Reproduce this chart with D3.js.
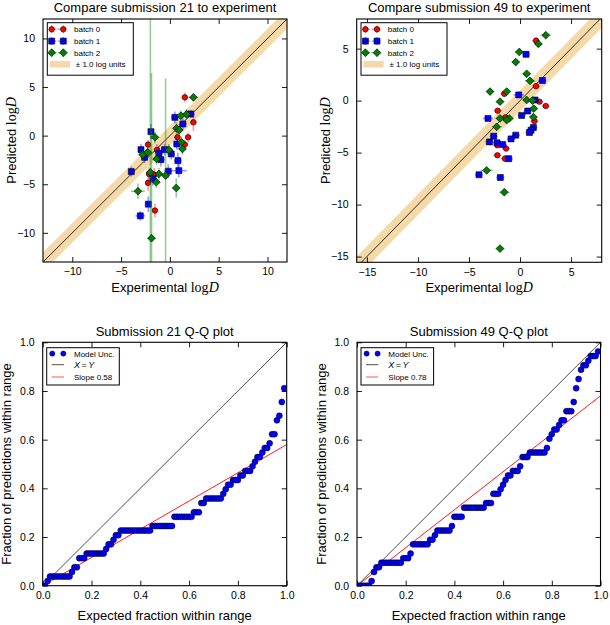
<!DOCTYPE html>
<html>
<head>
<meta charset="utf-8">
<script src="https://cdn.jsdelivr.net/npm/d3@7"></script>
<style>
  body { margin: 0; background: #fff; }
  svg { display: block; }
  text { font-family: "Liberation Sans", Arial, sans-serif; fill: #000; }
</style>
</head>
<body>
<script>
// ---- data: [experimental, predicted, xerr, yerr] ----
var sub21Batch0 = [
    [1.53, 3.94, 0.3, 0.5], [2.41, 1.37, 0.3, 0.9], [1.87, -0.17, 0.3, 0.5],
    [0.78, -0.17, 0.3, 0.5], [1.53, -0.92, 0.3, 0.5], [-2.24, -0.92, 0.3, 0.5],
    [-1.33, -1.47, 0.3, 0.6], [-1.6, -4.0, 0.3, 0.7], [-2.14, -3.94, 0.3, 0.7],
    [-2.24, -4.86, 0.3, 0.8], [-1.53, -7.7, 0.3, 0.7]
];
var sub21Batch1 = [
    [2.14, 2.23, 0.4, 0.4], [0.51, 1.88, 0.4, 0.6], [1.33, 1.2, 0.4, 0.6],
    [-1.94, 0.41, 0.3, 0.8], [0.71, -0.86, 0.4, 0.6], [-2.96, -1.44, 0.3, 0.6],
    [-2.59, -2.23, 0.4, 0.6], [-1.12, -1.82, 0.4, 0.7], [-0.92, -2.47, 0.4, 0.7],
    [-0.54, -1.44, 0.4, 0.6], [0.14, -1.88, 0.4, 0.6], [0.82, -2.57, 0.4, 0.8],
    [0.92, -3.6, 0.8, 0.7], [-0.17, -3.66, 0.4, 0.7], [-1.73, -4.45, 0.4, 0.7],
    [-3.95, -3.7, 0.3, 0.5], [-2.21, -7.05, 0.3, 0.8], [-3.03, -8.25, 0.5, 0.5]
];
var sub21Batch2 = [
    [2.41, 3.94, 0.5, 0.4], [1.7, 2.2, 0.4, 0.5], [1.12, 2.05, 0.4, 0.5],
    [0.68, 0.75, 0.4, 0.6], [0.95, 0.58, 0.4, 0.6], [-1.53, -0.17, 0.4, 0.6],
    [1.19, -0.68, 0.4, 0.6], [1.29, -1.37, 0.4, 0.6], [-2.79, -1.95, 0.4, 0.6],
    [-2.28, -1.71, 0.4, 0.6], [-1.36, -2.4, 0.4, 0.6], [-0.1, -1.47, 0.4, 0.6],
    [-0.44, -4.11, 0.4, 10.0], [-1.12, -3.94, 0.4, 0.6], [-2.0, -3.77, 0.4, 16.0],
    [-1.39, -4.79, 0.4, 0.6], [-3.27, -5.72, 0.7, 0.8], [0.65, -5.38, 0.4, 1.0],
    [-1.88, -10.55, 0.4, 17.0]
];

var sub49Batch0 = [
    [1.57, 5.77, 0.4, 0.2], [1.57, 1.39, 0.4, 0.2], [-1.54, 0.65, 0.4, 0.2],
    [1.9, -0.1, 0.4, 0.2], [2.52, -0.52, 0.4, 0.2], [-2.19, -0.97, 0.4, 0.2],
    [-1.44, -1.61, 0.4, 0.2], [1.41, -1.97, 0.4, 0.2], [-2.22, -4.29, 0.4, 0.2],
    [-1.37, -4.61, 0.4, 0.2], [-2.22, -5.26, 0.4, 0.2], [-1.47, -5.58, 0.4, 0.2]
];
var sub49Batch1 = [
    [0.59, 4.45, 0.4, 0.2], [2.19, 1.94, 0.4, 0.2], [-0.13, 0.55, 0.5, 0.2],
    [1.47, 0.06, 0.4, 0.2], [0.75, -1.0, 0.4, 0.2], [0.16, -1.42, 0.4, 0.2],
    [-3.14, -1.71, 0.5, 0.2], [1.31, -2.58, 0.4, 0.2], [1.08, -2.84, 0.4, 0.2],
    [0.92, -3.06, 0.4, 0.2], [-0.42, -3.32, 0.4, 0.2], [-0.88, -3.68, 0.4, 0.2],
    [-2.58, -3.42, 0.4, 0.2], [-3.0, -3.97, 0.4, 0.2], [-2.25, -4.06, 0.4, 0.2],
    [-1.7, -4.23, 0.4, 0.2], [-1.11, -5.58, 0.4, 0.2], [-4.02, -7.13, 0.4, 0.2],
    [-1.93, -7.39, 0.4, 0.2]
];
var sub49Batch2 = [
    [2.52, 6.29, 0.5, 0.2], [1.8, 5.45, 0.4, 0.2], [-0.07, 4.68, 0.4, 0.2],
    [-0.42, 3.71, 0.4, 0.2], [0.65, 2.58, 0.4, 0.2], [0.98, 1.9, 0.5, 0.2],
    [-2.94, 0.87, 0.4, 0.2], [-1.31, 0.87, 0.4, 0.2], [-1.96, -0.1, 0.4, 0.2],
    [0.65, 0.06, 0.4, 0.2], [1.21, 0.0, 0.4, 0.2], [1.34, -0.77, 0.4, 0.2],
    [1.31, -1.58, 0.4, 0.2], [-1.96, -1.71, 0.4, 0.2], [-1.05, -1.71, 0.4, 0.2],
    [-1.31, -1.87, 0.4, 0.2], [-2.29, -2.52, 0.5, 0.2], [-3.27, -6.71, 0.6, 0.2],
    [-1.54, -8.81, 0.5, 0.2], [-1.96, -14.23, 0.4, 0.2]
];

var batchNames = ["batch 0", "batch 1", "batch 2"];
var bandHalfWidth = 1.0;

// Q-Q data: expected fraction grid and number of molecules within range
var nMolecules = 53;
var qqExpected = [0, .01, .02, .03, .04, .05, .06, .07, .08, .09, .1, .11, .12, .13, .14, .15, .16, .17, .18, .19,
    .2, .21, .22, .23, .24, .25, .26, .27, .28, .29, .3, .31, .32, .33, .34, .35, .36, .37, .38, .39,
    .4, .41, .42, .43, .44, .45, .46, .47, .48, .49, .5, .51, .52, .53, .54, .55, .56, .57, .58, .59,
    .6, .61, .62, .63, .64, .65, .66, .67, .68, .69, .7, .71, .72, .73, .74, .75, .76, .77, .78, .79,
    .8, .81, .82, .83, .84, .85, .86, .87, .88, .89, .9, .91, .92, .93, .94, .95, .96, .97, .98, .99];
var qq21Counts = [0, 0, 1, 2, 2, 2, 2, 2, 2, 2, 2, 2, 3, 4, 4, 6, 6, 6, 7, 7,
    7, 7, 7, 7, 7, 7, 8, 9, 9, 10, 11, 11, 12, 12, 12, 12, 12, 12, 12, 12,
    12, 12, 12, 12, 12, 13, 13, 13, 13, 13, 13, 13, 13, 13, 15, 15, 15, 15, 15, 15,
    15, 15, 16, 16, 16, 18, 18, 19, 19, 19, 19, 19, 19, 19, 20, 21, 22, 22, 23, 23,
    23, 24, 24, 25, 25, 25, 26, 27, 28, 28, 29, 30, 30, 31, 33, 33, 36, 37, 40, 43];
var qq49Counts = [0, 0, 0, 0, 0, 0, 1, 3, 4, 4, 5, 5, 5, 5, 5, 5, 5, 5, 5, 6,
    6, 6, 7, 9, 9, 9, 9, 9, 9, 9, 10, 10, 11, 12, 12, 12, 12, 12, 12, 13,
    15, 15, 15, 15, 17, 17, 17, 17, 17, 17, 17, 17, 17, 18, 18, 18, 20, 20, 20, 21,
    22, 23, 24, 24, 25, 25, 25, 26, 28, 28, 28, 29, 29, 29, 29, 29, 29, 29, 30, 32,
    33, 34, 34, 35, 36, 36, 38, 38, 38, 40, 43, 45, 47, 48, 48, 49, 50, 50, 50, 51];
var qq21Slope = 0.58;
var qq49Slope = 0.78;

// ---- drawing ----
var svg = d3.select("body").append("svg").attr("width", 610).attr("height", 625);
var colors = ["#ff0000", "#0000ff", "#008000"];
var shapes = [
    d3.symbol().type(d3.symbolCircle).size(24),
    d3.symbol().type(d3.symbolSquare).size(36),
    d3.symbol().type(d3.symbolSquare).size(30)
];
var serif = "'Liberation Serif', 'DejaVu Serif', serif";

function marker(sel, b) {
    sel.append("path")
        .attr("d", shapes[b]())
        .attr("fill", colors[b])
        .attr("stroke", "#000")
        .attr("stroke-width", 0.6)
        .attr("transform", function(d) {
            return "translate(" + d[0] + "," + d[1] + ")" + (b === 2 ? " rotate(45)" : "");
        });
}

function makePanel(p) {
    var g = svg.append("g").attr("transform", "translate(" + p.left + "," + p.top + ")");
    var x = d3.scaleLinear().domain(p.xDom).range([0, p.w]);
    var y = d3.scaleLinear().domain(p.yDom).range([p.h, 0]);
    var clipId = "clip" + p.id;
    svg.append("clipPath").attr("id", clipId)
        .append("rect").attr("width", p.w).attr("height", p.h);
    var plot = g.append("g").attr("clip-path", "url(#" + clipId + ")");

    // axes, ticks inward on all four sides
    var fs = 10.5;
    var bottom = g.append("g").attr("transform", "translate(0," + p.h + ")")
        .call(d3.axisBottom(x).tickValues(p.ticksX).tickSizeInner(-5).tickSizeOuter(0)
            .tickPadding(6).tickFormat(p.fmt));
    var left = g.append("g")
        .call(d3.axisLeft(y).tickValues(p.ticksY).tickSizeInner(-5).tickSizeOuter(0)
            .tickPadding(8).tickFormat(p.fmt));
    g.append("g")
        .call(d3.axisTop(x).tickValues(p.ticksX).tickSizeInner(-5).tickSizeOuter(0).tickFormat(""));
    g.append("g").attr("transform", "translate(" + p.w + ",0)")
        .call(d3.axisRight(y).tickValues(p.ticksY).tickSizeInner(-5).tickSizeOuter(0).tickFormat(""));
    g.selectAll(".domain").remove();
    g.selectAll(".tick line").attr("stroke", "#000").attr("stroke-width", 0.9);
    [bottom, left].forEach(function(a) {
        a.attr("font-size", fs).attr("font-family", "'Liberation Sans', Arial, sans-serif");
    });

    // title
    g.append("text").attr("x", p.w / 2).attr("y", p.titleY)
        .attr("text-anchor", "middle").attr("font-size", 13).text(p.title);

    return { g: g, plot: plot, x: x, y: y };
}

function axisLabels(P, p, xParts, yParts) {
    var xl = P.g.append("text").attr("x", p.w / 2).attr("y", p.h + p.xLabelDy)
        .attr("text-anchor", "middle").attr("font-size", 13);
    xParts.forEach(function(t) {
        var s = xl.append("tspan").text(t[0]);
        if (t[1]) s.attr("font-family", serif).attr("font-size", 14);
        if (t[1] === "i") s.attr("font-style", "italic");
    });
    var yl = P.g.append("text")
        .attr("transform", "translate(" + (-p.yLabelDx) + "," + (p.h / 2) + ") rotate(-90)")
        .attr("text-anchor", "middle").attr("font-size", 13);
    yParts.forEach(function(t) {
        var s = yl.append("tspan").text(t[0]);
        if (t[1]) s.attr("font-family", serif).attr("font-size", 14);
        if (t[1] === "i") s.attr("font-style", "italic");
    });
}

function scatterPanel(p, batches) {
    var P = makePanel(p);
    var x = P.x, y = P.y;
    var x0 = p.xDom[0] - 5, x1 = p.xDom[1] + 5;

    // +/- band and identity line
    P.plot.append("path")
        .attr("d", d3.line()([
            [x(x0), y(x0 - bandHalfWidth)], [x(x1), y(x1 - bandHalfWidth)],
            [x(x1), y(x1 + bandHalfWidth)], [x(x0), y(x0 + bandHalfWidth)]
        ]) + "Z")
        .attr("fill", "#f5d9a8");
    P.plot.append("line")
        .attr("x1", x(x0)).attr("y1", y(x0)).attr("x2", x(x1)).attr("y2", y(x1))
        .attr("stroke", "#000").attr("stroke-width", 0.8);

    batches.forEach(function(data, b) {
        var eb = P.plot.append("g")
            .attr("stroke", colors[b]).attr("stroke-opacity", 0.4).attr("stroke-width", 1.6);
        eb.selectAll(".xe").data(data).enter().append("line")
            .attr("x1", function(d) { return x(d[0] - d[2]); })
            .attr("x2", function(d) { return x(d[0] + d[2]); })
            .attr("y1", function(d) { return y(d[1]); })
            .attr("y2", function(d) { return y(d[1]); });
        eb.selectAll(".ye").data(data).enter().append("line")
            .attr("x1", function(d) { return x(d[0]); })
            .attr("x2", function(d) { return x(d[0]); })
            .attr("y1", function(d) { return y(d[1] - d[3]); })
            .attr("y2", function(d) { return y(d[1] + d[3]); });
        var m = P.plot.append("g");
        marker(m.selectAll("path").data(data.map(function(d) { return [x(d[0]), y(d[1])]; }))
            .enter().append("g"), b);
    });

    // frame
    P.g.append("rect").attr("width", p.w).attr("height", p.h)
        .attr("fill", "none").attr("stroke", "#000").attr("stroke-width", 1.1);

    // legend
    var L = P.g.append("g").attr("transform", "translate(4.3,3.7)");
    L.append("rect").attr("width", 86).attr("height", 52.5)
        .attr("fill", "#fff").attr("stroke", "#000").attr("stroke-width", 1);
    var rowsY = [6.6, 18.4, 30, 41.6];
    batchNames.forEach(function(name, b) {
        var r = L.append("g").attr("transform", "translate(0," + rowsY[b] + ")");
        var eg = r.append("g").attr("stroke", colors[b]).attr("stroke-opacity", 0.45).attr("stroke-width", 1.4);
        eg.append("line").attr("x1", 1.5).attr("x2", 20).attr("y1", 0).attr("y2", 0)
            .attr("stroke-dasharray", "3,1.5");
        [4.4, 16].forEach(function(mx) {
            eg.append("line").attr("x1", mx).attr("x2", mx).attr("y1", -4).attr("y2", 4);
        });
        marker(r.selectAll("g.m").data([[4.4, 0], [16, 0]]).enter().append("g"), b);
        r.append("text").attr("x", 26.7).attr("y", 3).attr("font-size", 8).text(name);
    });
    var rb = L.append("g").attr("transform", "translate(0," + rowsY[3] + ")");
    rb.append("rect").attr("x", 2.4).attr("y", -3.3).attr("width", 20.3).attr("height", 6.6)
        .attr("fill", "#f5d9a8");
    rb.append("text").attr("x", 28.5).attr("y", 3).attr("font-size", 8)
        .text("\u00b1 " + bandHalfWidth.toFixed(1) + " log units");

    axisLabels(P, p, [["Experimental "], ["log", "r"], ["D", "i"]],
        [["Predicted "], ["log", "r"], ["D", "i"]]);
}

function qqPanel(p, counts, slope) {
    var P = makePanel(p);
    var x = P.x, y = P.y;
    P.plot.append("line")
        .attr("x1", x(0)).attr("y1", y(0)).attr("x2", x(1)).attr("y2", y(1))
        .attr("stroke", "#000").attr("stroke-width", 0.7);
    P.plot.append("line")
        .attr("x1", x(0)).attr("y1", y(0)).attr("x2", x(1)).attr("y2", y(slope))
        .attr("stroke", "#ff0000").attr("stroke-width", 0.9);
    P.plot.selectAll("circle.qq").data(counts).enter().append("circle")
        .attr("cx", function(d, i) { return x(qqExpected[i]); })
        .attr("cy", function(d) { return y(d / nMolecules); })
        .attr("r", 3)
        .attr("fill", "#0000ff").attr("stroke", "#000").attr("stroke-width", 0.5);

    P.g.append("rect").attr("width", p.w).attr("height", p.h)
        .attr("fill", "none").attr("stroke", "#000").attr("stroke-width", 1.1);

    var L = P.g.append("g").attr("transform", "translate(4,5.4)");
    L.append("rect").attr("width", 72.6).attr("height", 37.3)
        .attr("fill", "#fff").attr("stroke", "#000").attr("stroke-width", 1);
    var r0 = L.append("g").attr("transform", "translate(0,5.9)");
    [5.6, 16.6].forEach(function(mx) {
        r0.append("circle").attr("cx", mx).attr("cy", 0).attr("r", 2.6)
            .attr("fill", "#0000ff").attr("stroke", "#000").attr("stroke-width", 0.5);
    });
    r0.append("text").attr("x", 27.3).attr("y", 3).attr("font-size", 8).text("Model Unc.");
    var r1 = L.append("g").attr("transform", "translate(0,17)");
    r1.append("line").attr("x1", 5).attr("x2", 17.3).attr("stroke", "#000").attr("stroke-width", 0.7);
    var t1 = r1.append("text").attr("x", 27.3).attr("y", 3).attr("font-size", 9)
        .attr("font-family", serif);
    t1.append("tspan").attr("font-style", "italic").text("X");
    t1.append("tspan").attr("dx", 1.5).text("=");
    t1.append("tspan").attr("dx", 1.5).attr("font-style", "italic").text("Y");
    var r2 = L.append("g").attr("transform", "translate(0,29.3)");
    r2.append("line").attr("x1", 5).attr("x2", 17.3).attr("stroke", "#ff0000")
        .attr("stroke-opacity", 0.6).attr("stroke-width", 1.1);
    r2.append("text").attr("x", 27.3).attr("y", 3).attr("font-size", 8)
        .text("Slope " + slope.toFixed(2));

    axisLabels(P, p, [["Expected fraction within range"]], [["Fraction of predictions within range"]]);
}

var fmtInt = d3.format("d");
var fmtFrac = d3.format(".1f");

scatterPanel({
    id: 1, left: 43, top: 19, w: 244, h: 243, xDom: [-13, 12], yDom: [-13, 12],
    ticksX: [-10, -5, 0, 5, 10], ticksY: [-10, -5, 0, 5, 10], fmt: fmtInt,
    title: "Compare submission 21 to experiment", titleY: -7, xLabelDy: 29.7, yLabelDx: 27
}, [sub21Batch0, sub21Batch1, sub21Batch2]);

scatterPanel({
    id: 2, left: 356.7, top: 19, w: 245, h: 243.3, xDom: [-16, 8], yDom: [-15.55, 7.85],
    ticksX: [-15, -10, -5, 0, 5], ticksY: [-15, -10, -5, 0, 5], fmt: fmtInt,
    title: "Compare submission 49 to experiment", titleY: -7, xLabelDy: 29.7, yLabelDx: 26.7
}, [sub49Batch0, sub49Batch1, sub49Batch2]);

qqPanel({
    id: 3, left: 42.7, top: 342.3, w: 244, h: 243.4, xDom: [0, 1], yDom: [0, 1],
    ticksX: [0, 0.2, 0.4, 0.6, 0.8, 1.0], ticksY: [0, 0.2, 0.4, 0.6, 0.8, 1.0], fmt: fmtFrac,
    title: "Submission 21 Q-Q plot", titleY: -6.8, xLabelDy: 34, yLabelDx: 31.5
}, qq21Counts, qq21Slope);

qqPanel({
    id: 4, left: 357, top: 342.3, w: 243.5, h: 243.4, xDom: [0, 1], yDom: [0, 1],
    ticksX: [0, 0.2, 0.4, 0.6, 0.8, 1.0], ticksY: [0, 0.2, 0.4, 0.6, 0.8, 1.0], fmt: fmtFrac,
    title: "Submission 49 Q-Q plot", titleY: -6.8, xLabelDy: 34, yLabelDx: 31
}, qq49Counts, qq49Slope);
</script>
</body>
</html>
